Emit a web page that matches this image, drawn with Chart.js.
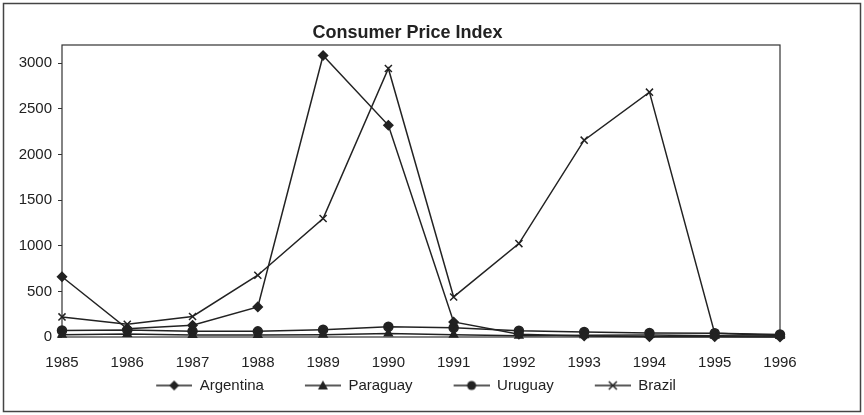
<!DOCTYPE html>
<html>
<head>
<meta charset="utf-8">
<title>Consumer Price Index</title>
<script src="https://cdn.jsdelivr.net/npm/chart.js@4/dist/chart.umd.min.js"></script>
<style>
  html, body { margin: 0; padding: 0; background: #fff; }
  #wrap { width: 864px; height: 415px; }
</style>
</head>
<body>
<div id="wrap"><canvas id="cpi" width="864" height="415"></canvas></div>
<script>
// ---------- data ----------
const years = ["1985", "1986", "1987", "1988", "1989", "1990", "1991", "1992", "1993", "1994", "1995", "1996"];
const argentina = [660, 90, 128, 330, 3085, 2320, 165, 30, 11, 4, 3, 0.2];
const paraguay  = [25, 32, 22, 23, 26, 38, 24, 15, 18, 21, 13, 10];
const uruguay   = [72, 76, 64, 62, 80, 113, 102, 69, 54, 45, 42, 28];
const brazil    = [220, 140, 225, 677, 1298, 2943, 439, 1024, 2157, 2683, 40, 16];
const yTicks    = [0, 500, 1000, 1500, 2000, 2500, 3000];

const INK = "#222";
const FONT = "Arial, 'Liberation Sans', sans-serif";

// ---------- legend icons (gap + line + marker) ----------
function makeIcon(shape){
  const c = document.createElement("canvas");
  c.width = 53; c.height = 12;
  const g = c.getContext("2d");
  g.strokeStyle = INK; g.fillStyle = INK; g.lineWidth = 1.5;
  g.beginPath(); g.moveTo(17, 6); g.lineTo(53, 6); g.stroke();
  const cx = 35, cy = 6, r = 5;
  g.beginPath();
  if(shape === "diamond"){
    g.moveTo(cx, cy - r); g.lineTo(cx + r, cy); g.lineTo(cx, cy + r); g.lineTo(cx - r, cy); g.closePath(); g.fill();
  } else if(shape === "triangle"){
    g.moveTo(cx, cy - r); g.lineTo(cx + r, cy + r * 0.8); g.lineTo(cx - r, cy + r * 0.8); g.closePath(); g.fill();
  } else if(shape === "circle"){
    g.arc(cx, cy, r - 0.5, 0, Math.PI * 2); g.fill();
  } else {
    g.moveTo(cx - r + 1, cy - r + 1); g.lineTo(cx + r - 1, cy + r - 1);
    g.moveTo(cx + r - 1, cy - r + 1); g.lineTo(cx - r + 1, cy + r - 1); g.stroke();
  }
  return c;
}
const icons = [makeIcon("diamond"), makeIcon("triangle"), makeIcon("circle"), makeIcon("cross")];

// ---------- frames ----------
const frames = {
  id: "frames",
  beforeDraw(chart){
    const ctx = chart.ctx;
    ctx.save();
    ctx.fillStyle = "#fff";
    ctx.fillRect(0, 0, chart.width, chart.height);
    ctx.strokeStyle = "#444"; ctx.lineWidth = 1.5;
    ctx.strokeRect(3.5, 3.5, 857, 408);
    ctx.restore();
  },
  beforeDatasetsDraw(chart){
    const a = chart.chartArea, ctx = chart.ctx;
    ctx.save();
    ctx.strokeStyle = "#333"; ctx.lineWidth = 1.2;
    ctx.strokeRect(a.left, a.top, a.right - a.left, a.bottom - a.top);
    ctx.restore();
  }
};

function series(label, data, style, radius){
  return {
    label, data,
    borderColor: INK, backgroundColor: INK, borderWidth: 1.5,
    pointStyle: style, pointRadius: radius, pointHoverRadius: radius,
    pointBorderColor: INK, pointBackgroundColor: INK, pointBorderWidth: 1.5,
    tension: 0, clip: false
  };
}

new Chart(document.getElementById("cpi"), {
  type: "line",
  data: {
    labels: years,
    datasets: [
      series("Argentina", argentina, "rectRot", 4.5),
      series("Paraguay", paraguay, "triangle", 4.5),
      series("Uruguay", uruguay, "circle", 4.5),
      series("Brazil", brazil, "crossRot", 5)
    ]
  },
  options: {
    responsive: false,
    animation: false,
    devicePixelRatio: 1,
    layout: { padding: { left: 10, right: 59, top: 0, bottom: 12 } },
    plugins: {
      title: {
        display: true,
        text: "Consumer Price Index",
        color: INK,
        font: { family: FONT, size: 18, weight: "bold" },
        padding: { top: 22.5, bottom: 0.9 }
      },
      legend: {
        position: "bottom",
        labels: {
          usePointStyle: true,
          pointStyleWidth: 53,
          padding: 24,
          color: INK,
          font: { family: FONT, size: 15 },
          generateLabels(chart){
            const items = Chart.defaults.plugins.legend.labels.generateLabels(chart);
            items.forEach((it, i) => { it.pointStyle = icons[i]; });
            return items;
          }
        }
      },
      tooltip: { enabled: false }
    },
    scales: {
      x: {
        type: "category",
        offset: false,
        grid: { display: false, drawTicks: false },
        border: { display: false },
        // mirrored labels are not clipped to the (short) axis box; negative padding pushes them below the axis
        ticks: { color: INK, mirror: true, padding: -35, maxRotation: 0, autoSkip: false, font: { family: FONT, size: 15 } },
        afterFit(s){ s.height = 17; }
      },
      y: {
        min: 0, max: 3200,
        grid: { drawOnChartArea: false, drawTicks: true, tickLength: 4, color: "#333" },
        border: { display: false },
        ticks: { color: INK, padding: 6, font: { family: FONT, size: 15 }, callback: v => String(v) },
        afterBuildTicks(s){ s.ticks = yTicks.map(v => ({ value: v })); },
        afterFit(s){ s.width = 52; }
      },
      // empty right-hand spacer so the plot ends where the frame layout needs it
      spacer: {
        type: "linear",
        position: "right",
        grid: { display: false, drawTicks: false },
        border: { display: false },
        ticks: { display: false },
        afterFit(s){ s.width = 25; }
      }
    }
  },
  plugins: [frames]
});
</script>
</body>
</html>
